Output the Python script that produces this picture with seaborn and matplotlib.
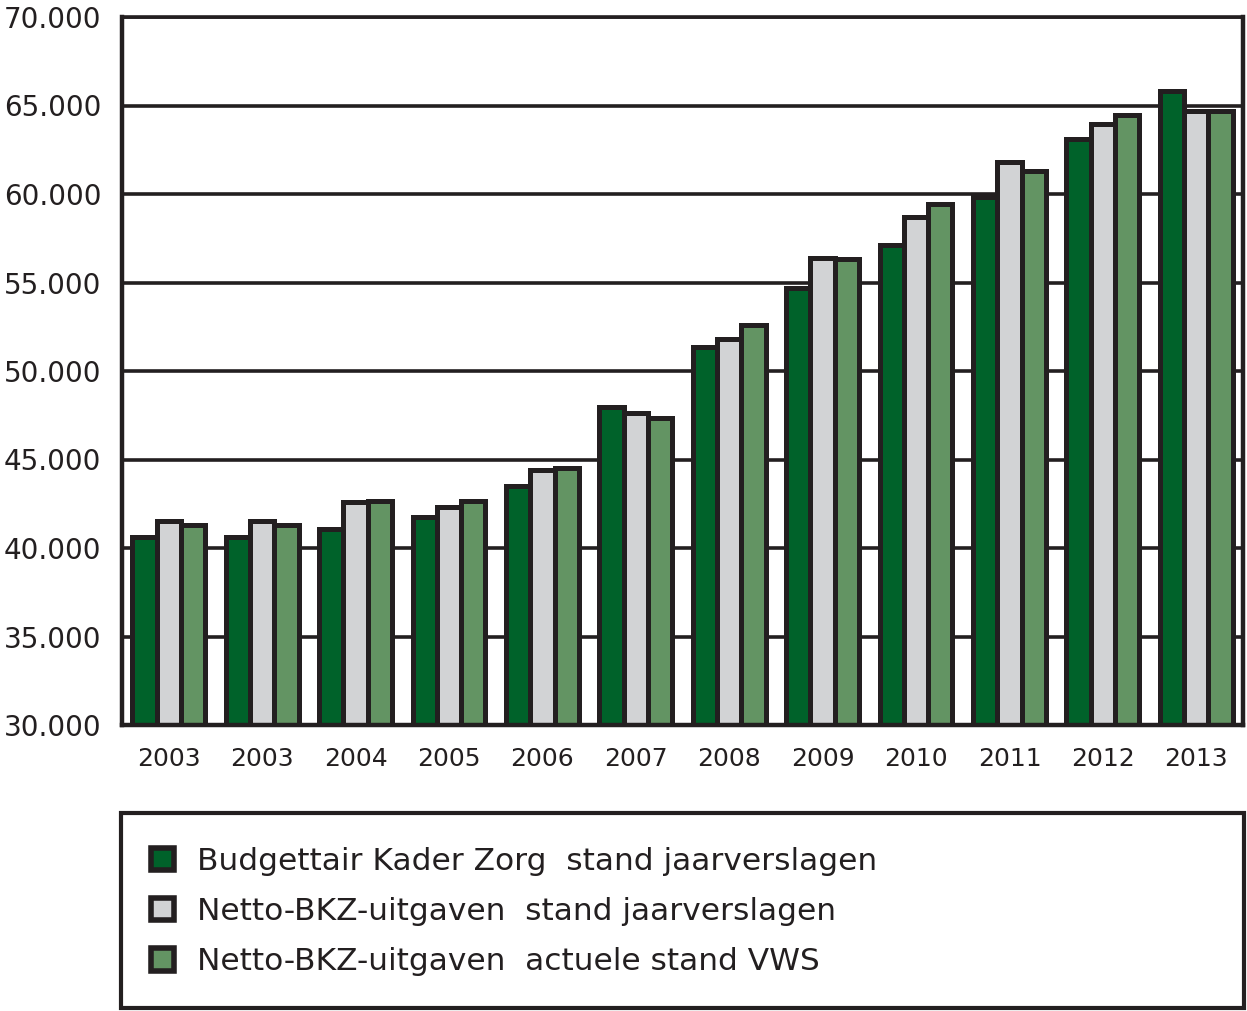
import matplotlib
matplotlib.use("Agg")
import matplotlib.pyplot as plt
import matplotlib.ticker as mticker
from matplotlib.patches import Rectangle
import seaborn as sns
import pandas as pd

years = ["2003", "2003", "2004", "2005", "2006", "2007", "2008", "2009", "2010", "2011", "2012", "2013"]
series_names = [
    "Budgettair Kader Zorg  stand jaarverslagen",
    "Netto-BKZ-uitgaven  stand jaarverslagen",
    "Netto-BKZ-uitgaven  actuele stand VWS",
]
bkz_jaarverslagen = [40600, 40600, 41100, 41750, 43500, 47950, 51350, 54700, 57100, 59850, 63100, 65800]
netto_jaarverslagen = [41500, 41500, 42600, 42300, 44400, 47600, 51800, 56400, 58700, 61800, 63950, 64700]
netto_actueel = [41300, 41300, 42650, 42650, 44500, 47350, 52600, 56350, 59450, 61300, 64450, 64700]
colors = ["#00622a", "#d2d3d5", "#639463"]
edge = "#231f20"

rows = []
for i in range(len(years)):
    for name, vals in zip(series_names, [bkz_jaarverslagen, netto_jaarverslagen, netto_actueel]):
        rows.append({"pos": str(i), "series": name, "value": vals[i]})
df = pd.DataFrame(rows)

sns.set_theme(style="white")
plt.rcParams["font.family"] = ["DejaVu Sans"]

fig = plt.figure(figsize=(12.47, 10.11), dpi=100)
ax = fig.add_axes([122 / 1247, 1 - 725 / 1011, (1243 - 122) / 1247, (725 - 17) / 1011])

sns.barplot(
    data=df, x="pos", y="value", hue="series", hue_order=series_names,
    order=[str(i) for i in range(len(years))],
    palette=colors, edgecolor=edge, linewidth=3.6, width=0.78,
    ax=ax, legend=True, saturation=1, errorbar=None,
)

ax.set_ylim(30000, 70000)
ax.set_xlim(-0.5, len(years) - 0.5)
ax.yaxis.set_major_locator(mticker.MultipleLocator(5000))
ax.yaxis.set_major_formatter(mticker.FuncFormatter(lambda v, p: f"{int(v):,}".replace(",", ".")))
ax.grid(axis="y", color=edge, linewidth=2.6)
ax.set_axisbelow(True)
ax.set_xlabel("")
ax.set_ylabel("")
ax.set_xticks(range(len(years)))
ax.set_xticklabels(years)
ax.set_xticks([i - 0.5 for i in range(len(years) + 1)], minor=True)
ax.tick_params(axis="x", which="major", length=0, pad=16, labelsize=18, labelcolor=edge)
ax.tick_params(axis="x", which="minor", length=10, width=2.2, color=edge, direction="out")
ax.tick_params(axis="y", which="major", length=10, width=2.2, color=edge, pad=5, labelsize=20, labelcolor=edge, direction="out")
for s in ["left", "right", "top", "bottom"]:
    ax.spines[s].set_visible(True)
    ax.spines[s].set_color(edge)
    ax.spines[s].set_linewidth(3.2)
ax.spines["top"].set_linewidth(2.6)

handles, labels = ax.get_legend_handles_labels()
ax.get_legend().remove()
for h in handles:
    h.set_linewidth(4.0)
    h.set_edgecolor(edge)

frame = Rectangle((121 / 1247, 3 / 1011), (1244 - 121) / 1247, (1008 - 813) / 1011,
                  transform=fig.transFigure, fill=False, edgecolor=edge, linewidth=3.0)
fig.patches.append(frame)

fig.legend(handles, labels, loc="upper left", bbox_to_anchor=(151 / 1247, 1 - 847 / 1011),
           frameon=False, fontsize=22.5, handlelength=0.72, handleheight=0.72,
           handletextpad=0.76, labelspacing=0.68, borderpad=0, borderaxespad=0,
           labelcolor=edge)

fig.savefig("out.png", dpi=100)
